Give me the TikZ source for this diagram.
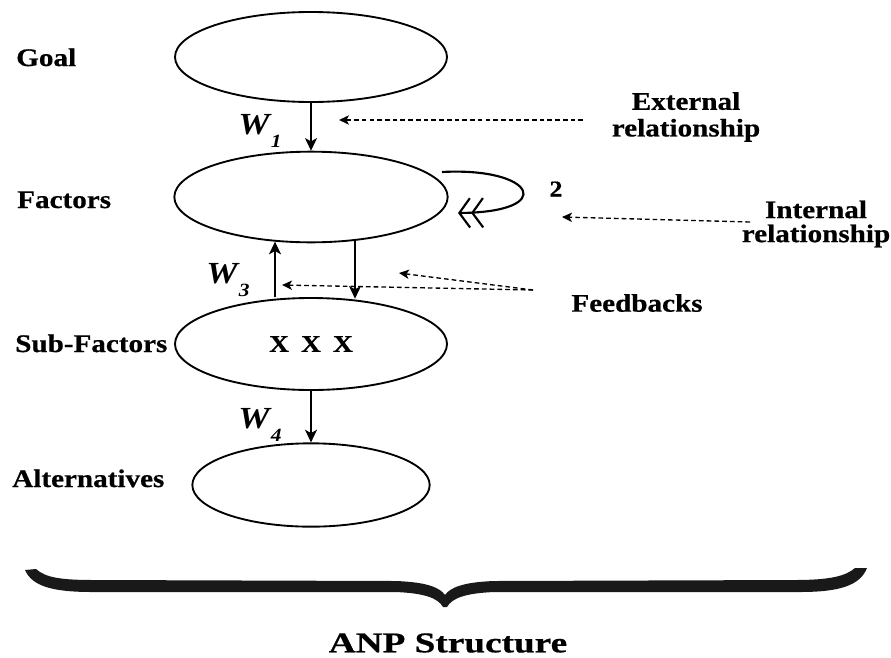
\documentclass[tikz,border=0pt]{standalone}
\usepackage{fontspec}
\setmainfont{Liberation Serif}
\newfontfamily\lblfont[FakeStretch=1.15, BoldFeatures={FakeBold=0.6}]{Liberation Serif}
\newfontfamily\capfont[FakeStretch=1.3, BoldFeatures={FakeBold=0.6}]{Liberation Serif}
\usetikzlibrary{shapes.geometric,arrows.meta}

\begin{document}
\begin{tikzpicture}[x=0.75pt,y=-0.75pt,
  cluster/.style={draw, ellipse, line width=1.4pt, inner sep=0pt},
  lvl/.style={anchor=base west, inner sep=0pt, font=\lblfont\bfseries\fontsize{19}{21}\selectfont},
  note/.style={align=center, inner sep=0pt, font=\lblfont\bfseries\fontsize{19}{21}\selectfont},
  wlabel/.style={anchor=base west, inner sep=0pt, font=\lblfont\bfseries\itshape\fontsize{23}{25}\selectfont},
  flow/.style={line width=1.1pt, -{Stealth[length=9.5pt,width=9pt,inset=2.5pt]}},
  link/.style={line width=1pt, dash pattern=on 3.5pt off 2.3pt, -{Stealth[length=7.5pt,width=7pt,inset=2pt]}},
  selfloop/.style={line width=1.6pt, -{Straight Barb[length=8pt,width=22pt,line width=1.6pt]Straight Barb[length=8pt,width=22pt,line width=1.6pt]}}
]
\useasboundingbox (0,0) rectangle (891,657);

% clusters of the network
\node[cluster, minimum width=204pt, minimum height=67.5pt] (goal)  at (311,57)  {};
\node[cluster, minimum width=205pt, minimum height=68pt]   (fac)   at (311,197) {};
\node[cluster, minimum width=204pt, minimum height=69pt]   (sub)   at (311,344) {\lblfont\bfseries\fontsize{18}{20}\selectfont X\hspace{0.5em}X\hspace{0.5em}X};
\node[cluster, minimum width=178pt, minimum height=62.5pt] (alt)   at (311,485) {};

% level names
\node[lvl] (lgoal) at (16,66)  {Goal};
\node[lvl] (lfac)  at (17,208) {Factors};
\node[lvl] (lsub)  at (15,352) {Sub-Factors};
\node[lvl] (lalt)  at (12,487) {Alternatives};

% weight matrices
\node[wlabel] (w1) at (238,134) {W\kern1pt\raisebox{-0.45em}{\fontsize{14}{15}\selectfont 1}};
\node[wlabel] (w3) at (206,283) {W\kern1pt\raisebox{-0.45em}{\fontsize{14}{15}\selectfont 3}};
\node[wlabel] (w4) at (238,428) {W\kern1pt\raisebox{-0.45em}{\fontsize{14}{15}\selectfont 4}};

% dependencies between levels
\coordinate (up)   at (275,0);
\coordinate (down) at (355,0);
\draw[flow] (goal.south) -- (fac.north);
\draw[flow] ([yshift=-0.3pt]sub.north -| up) -- ([yshift=1.2pt]fac.south -| up);
\draw[flow] ([yshift=1.8pt]fac.south -| down) -- ([yshift=-1.2pt]sub.north -| down);
\draw[flow] (sub.south) -- (alt.north);

% inner dependence of the factors
\coordinate (loopA) at (442,172);
\coordinate (loopB) at (458,213);
\draw[selfloop] (loopA) .. controls (535,167) and (558,212) .. (loopB);
\node[inner sep=0pt, font=\lblfont\bfseries\fontsize{17}{19}\selectfont] (two) at (556,189) {2};

% annotations
\node[note] (ext)  at (686,117) {External\\[-1pt]relationship};
\node[note] (int)  at (816,224) {Internal\\[-3pt]relationship};
\node[note] (feed) at (637,303) {Feedbacks};

\coordinate (extA) at (583,120);
\coordinate (extB) at (339,120);
\coordinate (intA) at (750,222);
\coordinate (intB) at (562,217);
\coordinate (fbA)  at (533,290);
\coordinate (fbB)  at (282,285);
\coordinate (fbC)  at (399,273);
\draw[link] (extA) -- (extB);
\draw[link] (intA) -- (intB);
\draw[link] (fbA) -- (fbB);
\draw[link] (fbA) -- (fbC);

% brace under the whole structure
\fill[black!90]
  (25,570) -- (36,569)
  .. controls (46,578) and (62,580) .. (95,580)
  -- (395,581)
  .. controls (428,582) and (440,588) .. (445,595)
  .. controls (450,588) and (462,582) .. (495,581)
  -- (795,580)
  .. controls (830,580) and (846,576) .. (855,568)
  -- (867,568)
  .. controls (860,586) and (838,592) .. (800,592)
  -- (495,592)
  .. controls (466,593) and (452,598) .. (447,607)
  -- (443,607)
  .. controls (438,598) and (424,593) .. (395,592)
  -- (92,592)
  .. controls (52,592) and (32,586) .. (25,570) -- cycle;

\node[inner sep=0pt, font=\capfont\bfseries\fontsize{21.5}{24}\selectfont] (anp) at (448,643) {ANP Structure};
\end{tikzpicture}
\end{document}
